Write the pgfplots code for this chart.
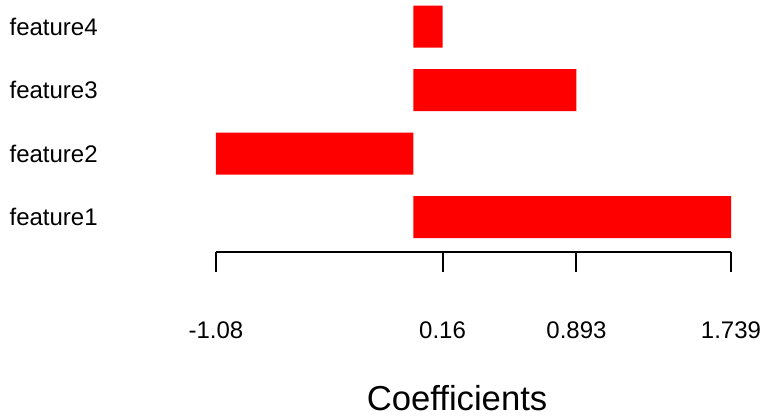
\documentclass[border=0pt]{standalone}
\usepackage{fontspec}
\setmainfont{Liberation Sans}
\usepackage{pgfplots}
\pgfplotsset{compat=1.18}

\begin{document}
\begin{tikzpicture}
% page = 766 x 418 px at 0.75pt per px, origin at axis corner (216px, 252px)
\useasboundingbox (-162pt,-124.5pt) rectangle (412.5pt,189pt);
\begin{axis}[
  at={(0,0)}, anchor=south west,
  scale only axis,
  width=386.25pt,
  height=189pt,
  xmin=-1.08, xmax=1.739,
  ymin=0.45, ymax=4.42,
  clip=false,
  axis x line*=bottom,
  axis y line*=left,
  y axis line style={draw=none},
  ytick style={draw=none},
  x axis line style={line width=1.5pt, black},
  xtick style={line width=1.5pt, black},
  tick align=outside,
  major tick length=15pt,
  xtick={-1.08,0.16,0.893,1.739},
  xticklabels={-1.08,0.16,0.893,1.739},
  ytick={1,2,3,4},
  yticklabels={feature1,feature2,feature3,feature4},
  xticklabel style={font=\fontsize{18}{21}\selectfont, inner sep=0pt, anchor=north, yshift=-36.75pt},
  yticklabel style={font=\fontsize{18}{21}\selectfont, inner sep=0pt, anchor=west, xshift=-140pt},
  xlabel={Coefficients},
  xlabel style={font=\fontsize{26}{30}\selectfont, at={(axis description cs:0.468,0)}, anchor=center, yshift=-109.5pt},
  xbar,
  bar width=31.5pt,
]
\addplot[fill=red, draw=none] coordinates {(1.739,1) (-1.08,2) (0.893,3) (0.16,4)};
\end{axis}
\end{tikzpicture}
\end{document}
